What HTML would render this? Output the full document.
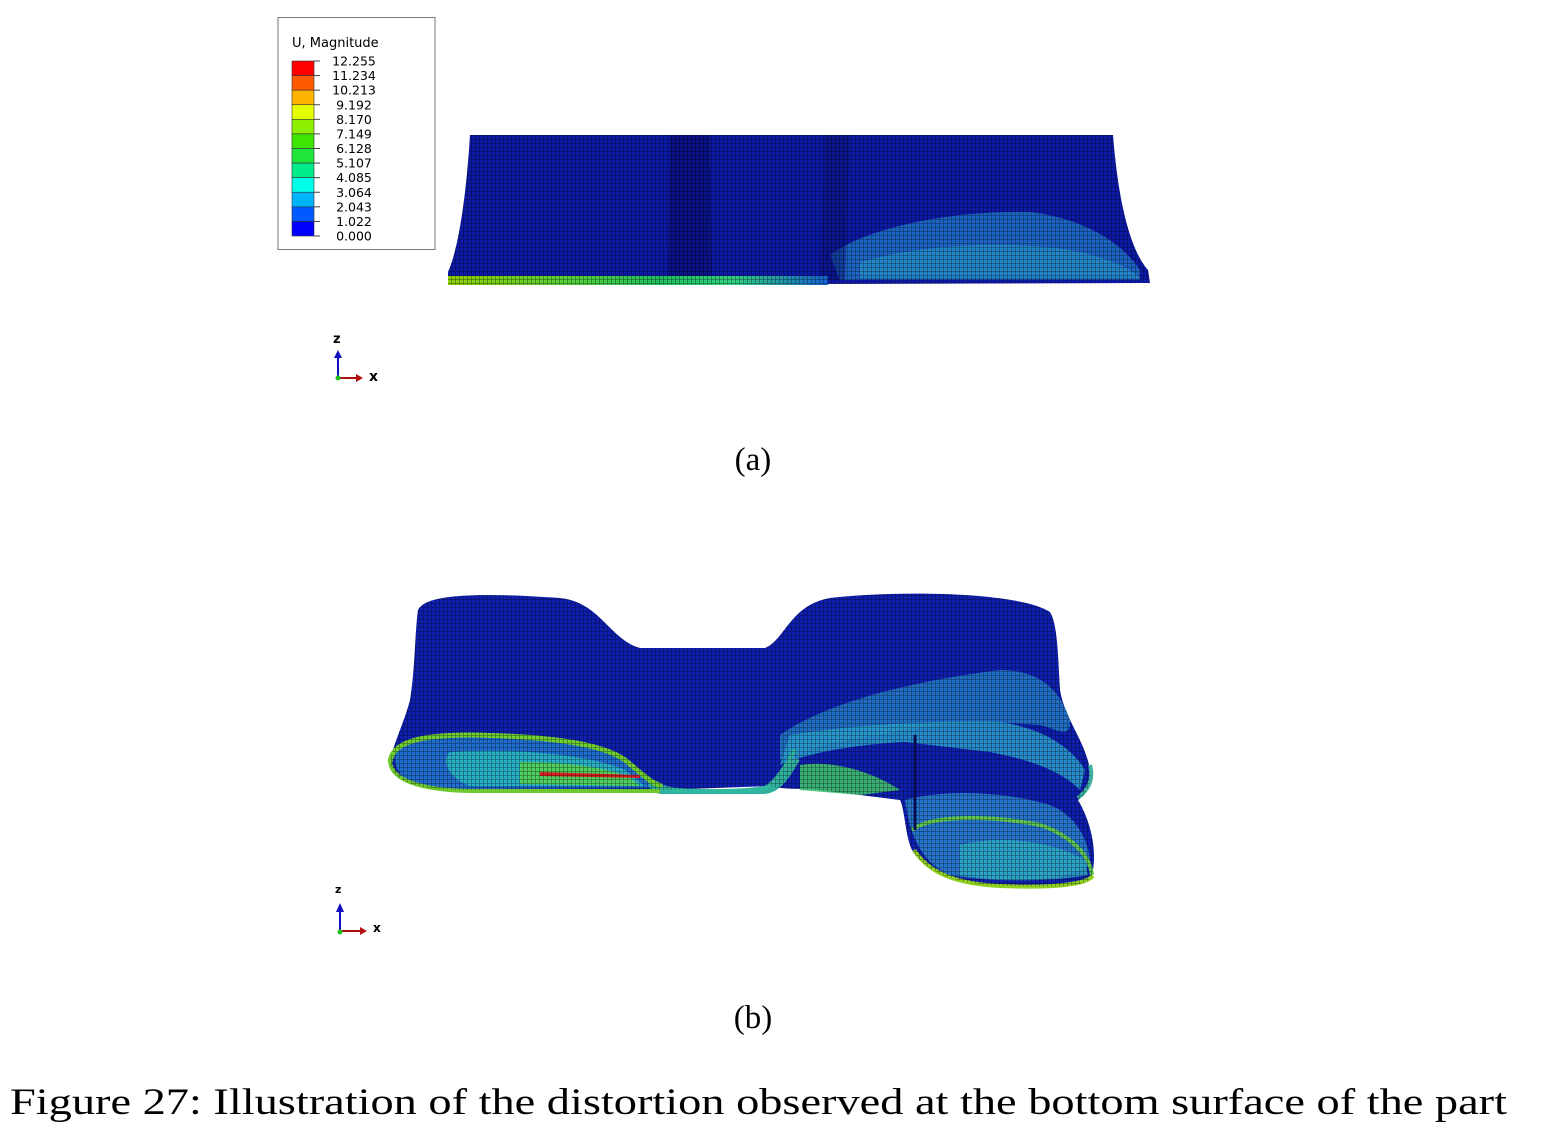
<!DOCTYPE html>
<html><head><meta charset="utf-8">
<style>
html,body{margin:0;padding:0;background:#fff;}
body{width:1564px;height:1128px;overflow:hidden;}
svg{display:block;}
</style></head>
<body>
<svg id="fig" width="1564" height="1128" viewBox="0 0 1564 1128" xmlns="http://www.w3.org/2000/svg">
<defs>
  <pattern id="mesh" width="4" height="4" patternUnits="userSpaceOnUse">
    <path d="M0 3.5H4 M3.5 0V4" stroke="#000" stroke-opacity="0.4" stroke-width="0.8"/>
  </pattern>
  <linearGradient id="edgeA" x1="0" x2="1" y1="0" y2="0">
    <stop offset="0" stop-color="#90d000"/><stop offset="0.35" stop-color="#50d040"/>
    <stop offset="0.55" stop-color="#20c060"/><stop offset="0.75" stop-color="#30d080"/>
    <stop offset="1" stop-color="#1560d0"/>
  </linearGradient>
</defs>

<g>
  <rect x="278" y="17.5" width="157" height="232" fill="#fff" stroke="#777" stroke-width="1"/>
  <text x="292" y="47" font-family="DejaVu Sans, sans-serif" font-size="13" fill="#000">U, Magnitude</text>
  <g id="legendBands"></g>
</g>

<g>
  <path id="ashape" d="M470 135 L1113 135 C1118 200 1130 250 1148 270 L1150 283 L448 285 L448 272 C458 250 466 200 470 135 Z" fill="#0d1aa8"/>
  <path d="M830 255 C870 225 960 210 1030 212 C1080 218 1120 240 1140 270 L1140 280 L840 280 Z" fill="#1f6ec8" opacity="0.9"/>
  <path d="M860 262 C920 245 1000 240 1070 250 C1110 258 1130 268 1140 278 L860 278 Z" fill="#2a9fd0" opacity="0.6"/>
  <path d="M670 135 L710 135 L712 285 L668 285 Z" fill="#050c60" opacity="0.45"/>
  <path d="M825 135 L850 135 L845 280 L820 280 Z" fill="#06106e" opacity="0.45"/>
  <rect x="448" y="276" width="380" height="9" fill="url(#edgeA)"/>
  <path d="M470 135 L1113 135 C1118 200 1130 250 1148 270 L1150 283 L448 285 L448 272 C458 250 466 200 470 135 Z" fill="url(#mesh)"/>
</g>

<g>
  <text x="333" y="343" font-family="DejaVu Sans, sans-serif" font-weight="bold" font-size="13">z</text>
  <line x1="338" y1="378" x2="338" y2="356" stroke="#1010c0" stroke-width="2"/>
  <path d="M334 358 L338 350 L342 358 Z" fill="#1010c0"/>
  <line x1="338" y1="378" x2="358" y2="378" stroke="#b01010" stroke-width="2"/>
  <path d="M356 374 L363 378 L356 382 Z" fill="#b01010"/>
  <circle cx="338" cy="378" r="2.5" fill="#20c020"/>
  <text x="369" y="381" font-family="DejaVu Sans, sans-serif" font-weight="bold" font-size="14">x</text>
</g>

<text x="753" y="470" text-anchor="middle" font-family="Liberation Serif, serif" font-size="33">(a)</text>

<g>
  <path id="bshape" d="M418 610 C425 595 470 592 560 598 C600 602 610 640 640 648 L765 648 C785 640 790 605 830 598 C900 590 1020 592 1050 612 C1058 625 1058 660 1060 690 C1065 720 1085 740 1090 770 C1092 785 1085 795 1078 800 C1090 820 1098 850 1092 875 C1088 888 1060 888 990 885 C950 882 925 870 912 850 C905 835 905 810 900 800 L820 790 C800 788 785 790 770 786 L660 790 C630 790 560 788 470 790 C410 790 392 780 390 760 C395 740 405 720 410 700 C415 670 415 630 418 610 Z" fill="#0f20b0"/>
  <!-- left lobe interior -->
  <path d="M395 752 C400 738 440 733 520 736 C580 740 615 748 635 765 C648 778 652 786 660 788 L470 789 C410 789 392 778 395 752 Z" fill="#1f6ed0"/>
  <path d="M450 752 C520 748 590 755 625 770 L645 786 L470 786 C450 780 440 760 450 752 Z" fill="#28b0c8"/>
  <path d="M520 762 C570 762 610 768 630 778 L640 786 L520 784 Z" fill="#50d060"/>
  <path d="M540 772 L640 775 L640 778 L540 776 Z" fill="#e02020"/>
  <!-- middle lower band -->
  <path d="M650 778 C660 786 680 790 700 790 L760 788 C772 784 780 770 790 755 L800 760 C790 776 782 792 765 794 L660 794 C650 792 646 785 650 778 Z" fill="#30b0a0"/>
  <!-- right upper band -->
  <path d="M780 735 C830 700 920 680 1000 670 C1040 670 1060 690 1070 720 C1070 740 1060 730 1040 725 C980 720 920 725 880 735 C840 740 800 750 780 760 Z" fill="#2278c8" opacity="0.9"/>
  <path d="M790 735 C850 725 930 720 1000 722 C1040 728 1070 745 1085 770 L1080 790 C1060 770 1030 760 990 752 L905 742 C860 744 810 752 780 765 Z" fill="#2aa0d0" opacity="0.85"/>
  <path d="M800 765 C830 760 870 770 900 790 L860 795 L800 790 Z" fill="#40c070" opacity="0.9"/>
  <!-- right lower lobe interior -->
  <path d="M905 800 C940 790 1000 790 1050 805 C1075 815 1090 840 1090 865 C1070 880 1000 885 950 875 C925 865 910 840 905 800 Z" fill="#2a80d0" opacity="0.9"/>
  <path d="M960 845 C1000 835 1050 840 1085 860 L1088 875 C1050 882 1000 882 960 875 Z" fill="#30b0c8" opacity="0.8"/>
  <!-- rims -->
  <path d="M390 762 C392 742 420 735 470 735 C540 736 600 742 625 760 C640 772 650 783 662 786" fill="none" stroke="#70d030" stroke-width="5"/>
  <path d="M390 762 C392 780 420 790 470 791 L660 791" fill="none" stroke="#70c830" stroke-width="4"/>
  <path d="M662 789 C700 792 740 792 765 788 C780 782 785 765 795 750" fill="none" stroke="#30b8a0" stroke-width="4"/>
  <path d="M912 830 C930 815 990 815 1040 825 C1070 835 1090 855 1092 875" fill="none" stroke="#60c850" stroke-width="4"/>
  <path d="M914 850 C930 875 960 884 1000 886 C1050 888 1085 885 1093 876" fill="none" stroke="#90d020" stroke-width="4"/>
  <path d="M1078 798 C1088 790 1094 780 1090 765" fill="none" stroke="#40b0a0" stroke-width="4"/>
  <line x1="915" y1="735" x2="915" y2="830" stroke="#081060" stroke-width="3"/>
  <path id="bmesh" fill="url(#mesh)"/>
</g>

<g>
  <text x="335" y="893" font-family="DejaVu Sans, sans-serif" font-weight="bold" font-size="11">z</text>
  <line x1="340" y1="931" x2="340" y2="910" stroke="#1010c0" stroke-width="2"/>
  <path d="M336 912 L340 903 L344 912 Z" fill="#1010c0"/>
  <line x1="340" y1="931" x2="362" y2="931" stroke="#b01010" stroke-width="2"/>
  <path d="M360 927 L367 931 L360 935 Z" fill="#b01010"/>
  <circle cx="340" cy="932" r="2.5" fill="#20c020"/>
  <text x="373" y="932" font-family="DejaVu Sans, sans-serif" font-weight="bold" font-size="12">x</text>
</g>

<text x="753" y="1028" text-anchor="middle" font-family="Liberation Serif, serif" font-size="33">(b)</text>

<text x="10" y="1114" textLength="1497" lengthAdjust="spacingAndGlyphs" font-family="Liberation Serif, serif" font-size="37">Figure 27: Illustration of the distortion observed at the bottom surface of the part</text>
</svg>

<script>
const values = ["12.255","11.234","10.213","9.192","8.170","7.149","6.128","5.107","4.085","3.064","2.043","1.022","0.000"];
const bandColors = ["#ff0000","#ff5a00","#ffb400","#e6ff00","#8cf000","#3ce600","#1ee63c","#00eb8c","#00ffe6","#00b4ff","#005aff","#0000ff"];
const NS = "http://www.w3.org/2000/svg";
document.getElementById("bmesh").setAttribute("d", document.getElementById("bshape").getAttribute("d"));
const g = document.getElementById("legendBands");
const top0 = 61, bottom0 = 236, bx = 292, bw = 22;
const step = (bottom0 - top0) / bandColors.length;
function yAt(i){ return top0 + i * step; }
bandColors.forEach((c, i) => {
  const r = document.createElementNS(NS, "rect");
  r.setAttribute("x", bx); r.setAttribute("y", yAt(i));
  r.setAttribute("width", bw); r.setAttribute("height", step);
  r.setAttribute("fill", c); r.setAttribute("stroke", "#333"); r.setAttribute("stroke-width", "0.6");
  
  
  g.appendChild(r);
});
values.forEach((v, i) => {
  const y = yAt(i);
  const tk = document.createElementNS(NS, "line");
  tk.setAttribute("x1", bx + bw); tk.setAttribute("x2", bx + bw + 6);
  tk.setAttribute("y1", y); tk.setAttribute("y2", y);
  tk.setAttribute("stroke", "#444"); tk.setAttribute("stroke-width", "1");
  
  
  g.appendChild(tk);
  const t = document.createElementNS(NS, "text");
  t.setAttribute("x", 354); t.setAttribute("y", y + 4.5);
  t.setAttribute("text-anchor", "middle");
  t.setAttribute("font-family", "DejaVu Sans, sans-serif");
  t.setAttribute("font-size", "12.5");
  t.textContent = v;
  
  
  g.appendChild(t);
});
</script>
</body></html>
